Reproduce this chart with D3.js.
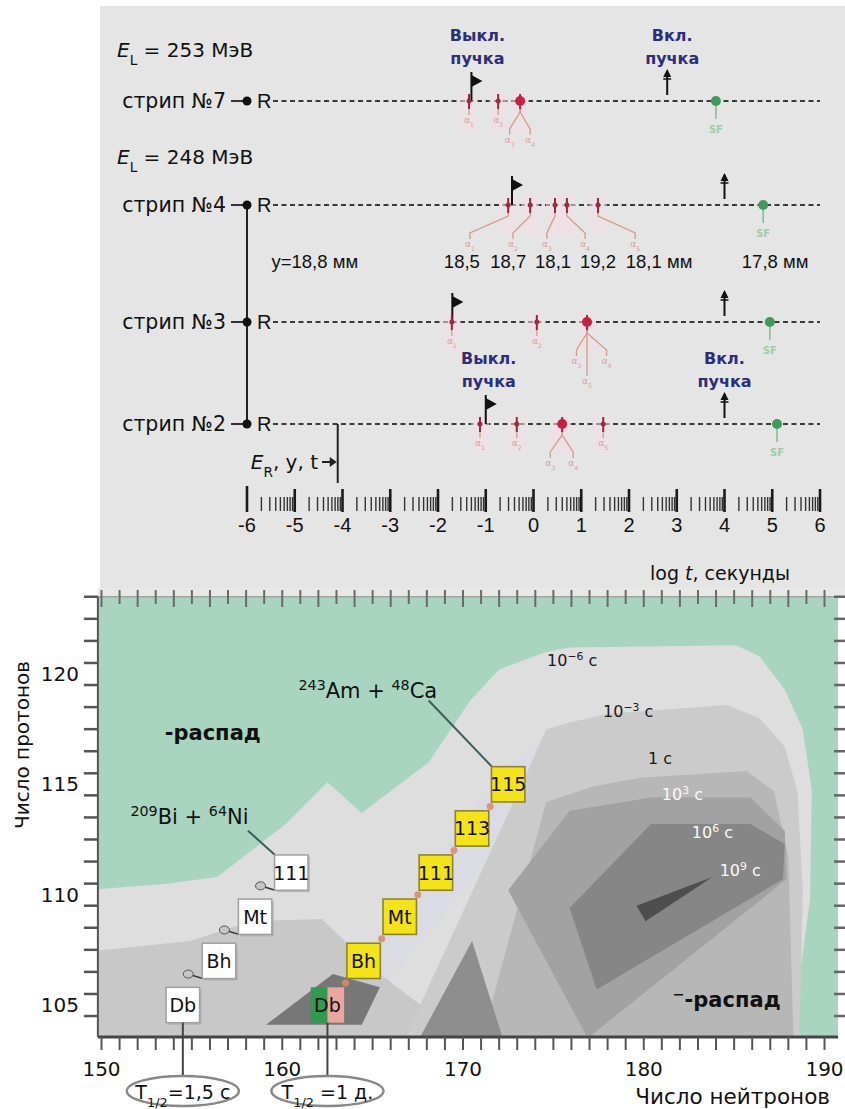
<!DOCTYPE html>
<html>
<head>
<meta charset="utf-8">
<script src="https://cdn.jsdelivr.net/npm/d3@7"></script>
<style>
  body { margin: 0; background: #fff; }
  svg { display: block; }
</style>
</head>
<body>
<script>
// ---------- top panel data (log t, seconds) ----------
const strips = ["стрип №7", "стрип №4", "стрип №3", "стрип №2"];
const beamOff = [-1.3, -0.45, -1.7, -1.0];
const beamOn = [2.8, 4.0, 4.0, 4.0];
const alphaTimes = [
  [-1.35, -0.74, -0.28],
  [-0.53, -0.07, 0.45, 0.70, 1.35],
  [-1.71, 0.07, 1.12],
  [-1.12, -0.35, 0.6, 1.46]
];
const strongAlpha = [2, -1, 2, 2];
const sfTimes = [3.82, 4.81, 4.95, 5.1];
// [event index, label log t, depth]
const alphaLabels = [
  [[0, -1.35, 1], [1, -0.74, 1], [2, -0.5, 2], [2, -0.07, 2]],
  [[0, -1.33, 2], [1, -0.43, 2], [2, 0.28, 2], [3, 1.08, 2], [4, 2.13, 2]],
  [[0, -1.71, 1], [1, 0.07, 1], [2, 0.9, 2], [2, 1.53, 2], [2, 1.12, 3]],
  [[0, -1.12, 1], [1, -0.35, 1], [2, 0.35, 2], [2, 0.83, 2], [3, 1.46, 1]]
];
const strip4Positions = [["y=18,8 мм", -4.58], ["18,5", -1.5], ["18,7", -0.53], ["18,1", 0.41],
                         ["19,2", 1.35], ["18,1 мм", 2.63], ["17,8 мм", 5.06]];
const energies = ["253", "248"];
const erTime = -4.1;
const logTicks = [-6, -5, -4, -3, -2, -1, 0, 1, 2, 3, 4, 5, 6];

// ---------- bottom panel data (N, Z) ----------
const neutronTicks = [150, 160, 170, 180, 190];
const protonTicks = [105, 110, 115, 120];
const oldChain = ["Db", "Bh", "Mt", "111"];
const oldN = [154.5, 156.5, 158.5, 160.5];
const oldZ = [105, 107, 109, 111];
const newChain = ["Db", "Bh", "Mt", "111", "113", "115"];
const newN = [162.5, 164.5, 166.5, 168.5, 170.5, 172.5];
const newZ = [105, 107, 109, 111, 113, 115];

const zoneOuter = [[149,103],[149,110.2],[153.6,110.5],[156.4,110.8],[160.2,113.2],[162.5,115.1],[164.4,113.7],
  [168.1,116.0],[170.4,118.8],[172.0,120.2],[174.6,121.0],[175.9,121.2],[185.1,121.3],[186.4,120.8],
  [187.8,119.3],[188.8,117.5],[189.3,114.7],[189.2,109.8],[188.6,106.1],[187.8,103]];
const zoneHill = [[149,103],[149,107.4],[154.9,107.9],[158.3,108.8],[162.2,108.9],[163.7,107.7],[166.2,105.9],
  [168.0,104.8],[169.5,103]];
const zoneHaze = [[164.0,106.2],[165.0,107.3],[172.0,115.6],[174.3,117.0],[175.1,116.1],[173.2,113.4],[166.0,106.2]];
const zoneMs = [[166.5,103],[173.8,116.0],[174.6,117.5],[175.9,117.8],[178.0,118.2],[184.6,118.6],[186.4,118.0],
  [187.8,116.7],[188.5,114.7],[188.8,110.2],[188.6,103]];
const zoneS = [[170.9,103],[174.6,114.2],[177.2,114.9],[179.8,115.3],[185.7,115.6],[187.2,114.7],[188.0,111.7],[188.3,103]];
const zoneWedge = [[167.6,103.5],[170.5,107.9],[172.2,103.5]];
const zoneKs = [[172.5,110.2],[175.9,113.8],[180.4,114.4],[185.9,114.4],[187.8,112.9],[187.9,110.7],[176.9,103.5]];
const zoneMy = [[175.9,109.4],[180.4,113.2],[185.9,113.2],[187.8,112.3],[187.7,110.7],[177.4,105.7]];
const zoneGy = [[179.6,109.5],[183.8,110.8],[180.1,108.8]];
const zoneDb = [[159.1,104.1],[162.8,106.4],[165.4,105.8],[164.4,104.1]];
const zones = [zoneOuter, zoneHill, zoneHaze, zoneMs, zoneS, zoneWedge, zoneKs, zoneMy, zoneGy, zoneDb];
const zoneFill = ["#dedede", "#c8c8c8", "#d8d9e6", "#cbcbcb", "#b7b7b7", "#8e8e8e", "#a2a2a2", "#868686", "#4e4e4e", "#777"];

const halfLifeLabels = [["10", "−6", 174.65, 120.36], ["10", "−3", 177.75, 118.05], ["1", "", 180.24, 115.92],
                        ["10", "3", 181.0, 114.29], ["10", "6", 182.66, 112.57], ["10", "9", 184.2, 110.85]];

const FONT = "'DejaVu Sans', sans-serif";
const NUMFONT = "'Liberation Sans', Arial, sans-serif";

const svg = d3.select("body").append("svg").attr("width", 845).attr("height", 1109)
  .attr("font-family", FONT);

function rich(g, x, y, parts, size, fill) {
  const t = g.append("text").attr("x", x).attr("y", y).attr("font-size", size).attr("fill", fill || "#111");
  parts.forEach(([s, k]) => {
    const ts = t.append("tspan").text(s);
    if (k === "sup") ts.attr("baseline-shift", "super").attr("font-size", size * 0.68);
    if (k === "sub") ts.attr("baseline-shift", "sub").attr("font-size", size * 0.68);
    if (k === "it") ts.attr("font-style", "italic");
  });
  return t;
}

// ================= TOP PANEL =================
const topG = svg.append("g");
topG.append("rect").attr("x", 100).attr("y", 6).attr("width", 745).attr("height", 584).attr("fill", "#e5e5e5");

const xT = d3.scaleLinear().domain([-6, 6]).range([247, 820]);
const rowY = [101, 205, 322, 424];

// energy labels
energies.forEach((e, i) => {
  rich(topG, 117, i === 0 ? 57 : 164, [["E", "it"], ["L", "sub"], [" = " + e + " МэВ", ""]], 20, "#111");
});

// strip 4 -> strip 2 connector
topG.append("line").attr("x1", xT(-6)).attr("x2", xT(-6)).attr("y1", rowY[1]).attr("y2", rowY[3])
  .attr("stroke", "#222").attr("stroke-width", 2);

strips.forEach((s, i) => {
  const y = rowY[i];
  const g = topG.append("g");
  g.append("text").attr("x", 226).attr("y", y + 7).attr("text-anchor", "end")
    .attr("font-size", 20.5).attr("fill", "#111").text(s);
  g.append("line").attr("x1", 231).attr("x2", 244).attr("y1", y).attr("y2", y)
    .attr("stroke", "#333").attr("stroke-width", 2);
  g.append("circle").attr("cx", xT(-6)).attr("cy", y).attr("r", 4.5).attr("fill", "#111");
  g.append("text").attr("x", 257).attr("y", y + 7).attr("font-size", 20).attr("font-family", NUMFONT)
    .attr("fill", "#111").text("R");
  g.append("line").attr("x1", 273).attr("x2", xT(6)).attr("y1", y).attr("y2", y)
    .attr("stroke", "#3a3a3a").attr("stroke-width", 2).attr("stroke-dasharray", "5,3.5");

  // faint halos behind the decay events
  alphaTimes[i].forEach(t => {
    g.append("rect").attr("x", xT(t) - 9).attr("y", y - 10).attr("width", 18).attr("height", 40)
      .attr("fill", "#f3dfe3").attr("opacity", 0.55);
  });

  // beam off flag
  const fx = xT(beamOff[i]);
  g.append("line").attr("x1", fx).attr("x2", fx).attr("y1", y - 29).attr("y2", y)
    .attr("stroke", "#111").attr("stroke-width", 2);
  g.append("path").attr("d", `M${fx},${y - 26} L${fx + 11},${y - 20} L${fx},${y - 14} Z`).attr("fill", "#111");

  // beam on marker
  const bx = xT(beamOn[i]);
  g.append("line").attr("x1", bx).attr("x2", bx).attr("y1", y - 30).attr("y2", y - 6)
    .attr("stroke", "#111").attr("stroke-width", 2);
  g.append("path").attr("d", `M${bx - 4},${y - 24} L${bx + 4},${y - 24} L${bx},${y - 32} Z`).attr("fill", "#111");
  g.append("line").attr("x1", bx - 4).attr("x2", bx + 4).attr("y1", y - 22).attr("y2", y - 22)
    .attr("stroke", "#111").attr("stroke-width", 1.5);

  // leaders and alpha labels
  alphaLabels[i].forEach(([e, lt, depth], k) => {
    const ex = xT(alphaTimes[i][e]), lx = xT(lt);
    const dy = depth === 1 ? 22 : depth === 2 ? 42 : 62;
    g.append("path").attr("d", `M${ex},${y + 6} V${y + 11} L${lx},${y + dy - 14} V${y + dy - 8}`)
      .attr("fill", "none").attr("stroke", "#d49a8e").attr("stroke-width", 1.3);
    rich(g, lx, y + dy, [["α", ""], [String(k + 1), "sub"]], 9, "#dc9c9c").attr("text-anchor", "middle");
  });

  // alpha events
  alphaTimes[i].forEach((t, j) => {
    const x = xT(t);
    const strong = j === strongAlpha[i];
    g.append("line").attr("x1", x).attr("x2", x).attr("y1", y - 7).attr("y2", y + 8)
      .attr("stroke", strong ? "#b0203c" : "#8e2a3c").attr("stroke-width", 2);
    if (strong) g.append("circle").attr("cx", x).attr("cy", y).attr("r", 5).attr("fill", "#c4223f");
    else g.append("circle").attr("cx", x).attr("cy", y).attr("r", 2.5).attr("fill", "#9c2a40");
  });

  // spontaneous fission
  const sx = xT(sfTimes[i]);
  g.append("line").attr("x1", sx).attr("x2", sx).attr("y1", y).attr("y2", y + 18)
    .attr("stroke", "#7cbf8c").attr("stroke-width", 1.5);
  g.append("circle").attr("cx", sx).attr("cy", y).attr("r", 5).attr("fill", "#3f9a5e");
  g.append("text").attr("x", sx).attr("y", y + 32).attr("text-anchor", "middle").attr("font-size", 10)
    .attr("font-weight", "bold").attr("fill", "#9ccfa8").text("SF");
});

// strip 4 positions
strip4Positions.forEach(([s, t]) => {
  topG.append("text").attr("x", xT(t)).attr("y", rowY[1] + 63).attr("text-anchor", "middle")
    .attr("font-size", 18.5).attr("font-family", NUMFONT).attr("fill", "#111").text(s);
});

// beam annotations
function beamText(x, y, w1) {
  [w1, "пучка"].forEach((w, k) => {
    topG.append("text").attr("x", x).attr("y", y + k * 23).attr("text-anchor", "middle")
      .attr("font-size", 16).attr("font-weight", "bold").attr("fill", "#2e2d7c").text(w);
  });
}
beamText(xT(beamOff[0]) + 6, 41, "Выкл.");
beamText(xT(beamOn[0]) + 5, 41, "Вкл.");
beamText(xT(beamOff[3]) + 3, 364, "Выкл.");
beamText(xT(beamOn[3]), 364, "Вкл.");

// E_R, y, t marker
const ex = xT(erTime);
topG.append("line").attr("x1", ex).attr("x2", ex).attr("y1", rowY[3]).attr("y2", 483)
  .attr("stroke", "#222").attr("stroke-width", 2);
topG.append("line").attr("x1", 322).attr("x2", ex - 3).attr("y1", 462).attr("y2", 462)
  .attr("stroke", "#222").attr("stroke-width", 2);
topG.append("path").attr("d", `M${ex - 1},462 L${ex - 8},457 L${ex - 8},467 Z`).attr("fill", "#222");
rich(topG, 318, 469, [["E", "it"], ["R", "sub"], [", y, t", ""]], 20, "#111").attr("text-anchor", "end");

// log t ruler
logTicks.forEach(d => {
  topG.append("line").attr("x1", xT(d)).attr("x2", xT(d)).attr("y1", d === -6 ? 486 : 489).attr("y2", 512)
    .attr("stroke", "#1a1a1a").attr("stroke-width", 2.6);
  topG.append("text").attr("x", xT(d)).attr("y", 532).attr("text-anchor", "middle")
    .attr("font-size", 20).attr("font-family", NUMFONT).attr("fill", "#111").text(d < 0 ? "-" + (-d) : d);
  if (d < 6) d3.range(2, 10).forEach(k => {
    const x = xT(d + Math.log10(k));
    topG.append("line").attr("x1", x).attr("x2", x).attr("y1", 497).attr("y2", 511)
      .attr("stroke", "#333").attr("stroke-width", 1.4);
  });
});
rich(topG, 790, 580, [["log ", ""], ["t", "it"], [", секунды", ""]], 19, "#111").attr("text-anchor", "end");

// ================= BOTTOM PANEL =================
const xB = d3.scaleLinear().domain([150, 190]).range([101.5, 824.5]);
const yB = d3.scaleLinear().domain([105, 120]).range([1005, 674]);
const nLo = 149.8, nHi = 190.75, zLo = 103.55, zHi = 123.5;
const px0 = xB(nLo), px1 = xB(nHi), py0 = yB(zHi), py1 = yB(zLo);

const bot = svg.append("g");
bot.append("rect").attr("x", 98).attr("y", 588).attr("width", 747).attr("height", 10).attr("fill", "#e6e9e6");
svg.append("clipPath").attr("id", "plot").append("rect")
  .attr("x", px0).attr("y", py0).attr("width", px1 - px0).attr("height", py1 - py0);
const plot = bot.append("g").attr("clip-path", "url(#plot)");
plot.append("rect").attr("x", px0).attr("y", py0).attr("width", px1 - px0).attr("height", py1 - py0)
  .attr("fill", "#a9d4c0");

const area = d3.line().x(d => xB(d[0])).y(d => yB(d[1]));
plot.selectAll("path.zone").data(zones).enter().append("path").attr("class", "zone")
  .attr("d", d => area(d) + "Z").attr("fill", (d, i) => zoneFill[i])
  .attr("opacity", (d, i) => i === 2 ? 0.6 : 1);

// half-life labels
halfLifeLabels.forEach(([b, e, n, z], i) => {
  const parts = e ? [[b, ""], [e, "sup"], [" с", ""]] : [[b + " с", ""]];
  rich(plot, xB(n), yB(z), parts, 16, i < 3 ? "#1a1a1a" : "#fafafa");
});

// decay-mode labels
rich(plot, xB(153.5), yB(117.0), [["-распад", ""]], 21, "#111").attr("font-weight", "bold");
rich(plot, xB(181.6), yB(104.9), [["−", "sup"], ["-распад", ""]], 21, "#111").attr("font-weight", "bold");

// reaction labels with leaders
function reaction(parts, n, z, from, to) {
  plot.append("line").attr("x1", xB(from[0])).attr("y1", yB(from[1])).attr("x2", xB(to[0])).attr("y2", yB(to[1]))
    .attr("stroke", "#3c5e5a").attr("stroke-width", 2);
  rich(plot, xB(n), yB(z), parts, 21, "#111");
}
reaction([["209", "sup"], ["Bi + ", ""], ["64", "sup"], ["Ni", ""]], 151.6, 113.2,
  [158.1, 112.9], [oldN[3] - 0.9, oldZ[3] + 0.8]);
reaction([["243", "sup"], ["Am + ", ""], ["48", "sup"], ["Ca", ""]], 160.9, 118.9,
  [168.1, 118.8], [newN[5] - 0.9, newZ[5] + 0.8]);

// decay chains
const bw = 1.85, bh = 1.6;
oldChain.forEach((s, i) => {
  if (i > 0) {
    const mx = oldN[i] - 1.7, mz = oldZ[i] - 0.6;
    plot.append("line").attr("x1", xB(mx)).attr("y1", yB(mz)).attr("x2", xB(oldN[i] - 0.9)).attr("y2", yB(oldZ[i] - 0.8))
      .attr("stroke", "#333").attr("stroke-width", 1.5);
    plot.append("ellipse").attr("cx", xB(mx)).attr("cy", yB(mz)).attr("rx", 5).attr("ry", 4)
      .attr("fill", "#c6c6c6").attr("stroke", "#555").attr("stroke-width", 1);
  }
  plot.append("rect").attr("x", xB(oldN[i] - bw / 2) + 2).attr("y", yB(oldZ[i] + bh / 2) + 2)
    .attr("width", xB(bw) - xB(0)).attr("height", yB(0) - yB(bh)).attr("fill", "#9a9a9a").attr("opacity", 0.5);
  plot.append("rect").attr("x", xB(oldN[i] - bw / 2)).attr("y", yB(oldZ[i] + bh / 2))
    .attr("width", xB(bw) - xB(0)).attr("height", yB(0) - yB(bh))
    .attr("fill", "#fff").attr("stroke", "#a0a0a0").attr("stroke-width", 1.5);
  plot.append("text").attr("x", xB(oldN[i])).attr("y", yB(oldZ[i]) + 7).attr("text-anchor", "middle")
    .attr("font-size", 19).attr("fill", "#111").text(s);
});

newChain.forEach((s, i) => {
  if (i > 0) {
    plot.append("circle").attr("cx", xB((newN[i] + newN[i - 1]) / 2)).attr("cy", yB((newZ[i] + newZ[i - 1]) / 2))
      .attr("r", 3.5).attr("fill", "#d98a6a").attr("opacity", 0.85);
  }
  const x = xB(newN[i] - bw / 2), y = yB(newZ[i] + bh / 2);
  const w = xB(bw) - xB(0), h = yB(0) - yB(bh);
  if (i === 0) {
    plot.append("rect").attr("x", x).attr("y", y).attr("width", w / 2).attr("height", h).attr("fill", "#2f9a50");
    plot.append("rect").attr("x", x + w / 2).attr("y", y).attr("width", w / 2).attr("height", h).attr("fill", "#e9a7a0");
  } else {
    plot.append("rect").attr("x", x).attr("y", y).attr("width", w).attr("height", h)
      .attr("fill", "#f3e31d").attr("stroke", "#8e8236").attr("stroke-width", 1.6);
  }
  plot.append("text").attr("x", xB(newN[i])).attr("y", yB(newZ[i]) + 7).attr("text-anchor", "middle")
    .attr("font-size", 19).attr("fill", "#111").text(s);
});

// frame and ticks
bot.append("line").attr("x1", px0).attr("x2", px0).attr("y1", py0).attr("y2", py1).attr("stroke", "#555").attr("stroke-width", 2);
bot.append("line").attr("x1", px0).attr("x2", px1).attr("y1", py1).attr("y2", py1).attr("stroke", "#444").attr("stroke-width", 3);
bot.append("line").attr("x1", px0).attr("x2", px1).attr("y1", py0).attr("y2", py0).attr("stroke", "#8a8a8a").attr("stroke-width", 1);
d3.range(150, 191).forEach(n => {
  bot.append("line").attr("x1", xB(n)).attr("x2", xB(n)).attr("y1", py1).attr("y2", py1 + 13)
    .attr("stroke", "#555").attr("stroke-width", 2);
  bot.append("line").attr("x1", xB(n)).attr("x2", xB(n)).attr("y1", 590).attr("y2", n % 2 ? 604 : 607)
    .attr("stroke", "#6a6a6a").attr("stroke-width", 2);
});
d3.range(104, 124).forEach(z => {
  const y = yB(z + 0.5);
  if (y < py0 || y > py1) return;
  bot.append("line").attr("x1", px0 - 14).attr("x2", px0).attr("y1", y).attr("y2", y).attr("stroke", "#555").attr("stroke-width", 2.5);
  bot.append("line").attr("x1", 834).attr("x2", 845).attr("y1", y).attr("y2", y).attr("stroke", "#666").attr("stroke-width", 2.5);
});
neutronTicks.forEach(n => {
  bot.append("text").attr("x", xB(n)).attr("y", 1076).attr("text-anchor", "middle")
    .attr("font-size", 20).attr("fill", "#111").text(n);
});
protonTicks.forEach(z => {
  bot.append("text").attr("x", 79).attr("y", yB(z) + 7).attr("text-anchor", "end")
    .attr("font-size", 20).attr("fill", "#111").text(z);
});
bot.append("text").attr("transform", "translate(29,745) rotate(-90)").attr("text-anchor", "middle")
  .attr("font-size", 20).attr("fill", "#111").text("Число протонов");
bot.append("text").attr("x", 830).attr("y", 1104).attr("text-anchor", "end")
  .attr("font-size", 21.5).attr("fill", "#111").text("Число нейтронов");

// half-life callouts
[[oldN[0], "1,5 с", ""], [newN[0], "1 д.", " "]].forEach(([n, v, sp]) => {
  const x = xB(n);
  bot.append("line").attr("x1", x).attr("x2", x).attr("y1", yB(newZ[0] - bh / 2)).attr("y2", 1076)
    .attr("stroke", "#444").attr("stroke-width", 2);
  bot.append("ellipse").attr("cx", x).attr("cy", 1091).attr("rx", 56).attr("ry", 15)
    .attr("fill", "#fff").attr("stroke", "#888").attr("stroke-width", 2.5);
  rich(bot, x, 1099, [["T", ""], ["1/2", "sub"], [sp + "=" + v, ""]], 19, "#111").attr("text-anchor", "middle");
});
</script>
</body>
</html>
